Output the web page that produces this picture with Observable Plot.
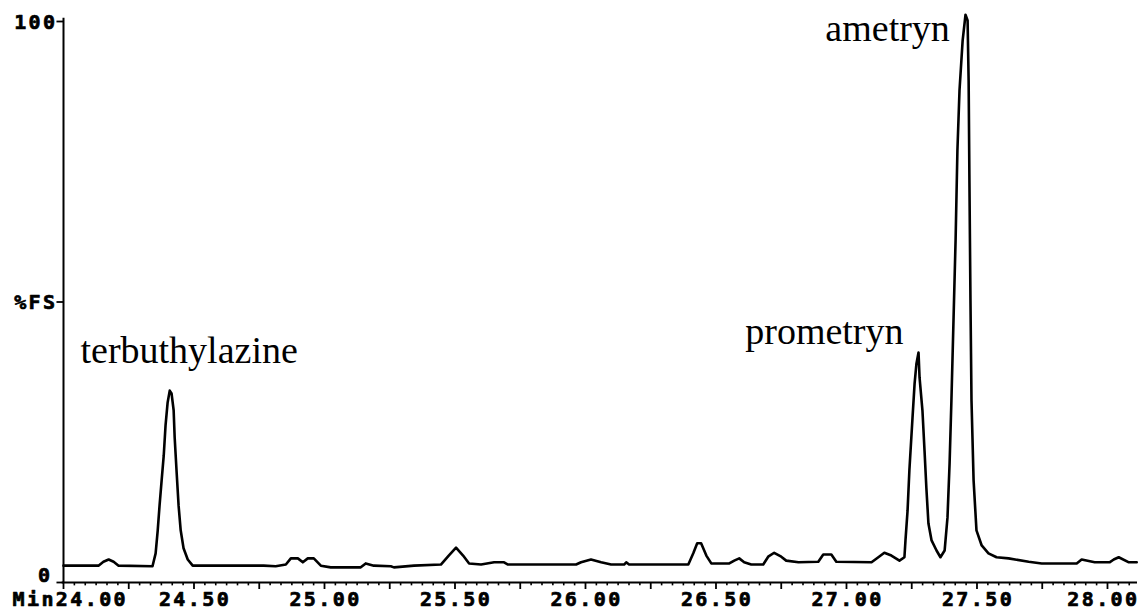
<!DOCTYPE html>
<html>
<head>
<meta charset="utf-8">
<script src="https://cdn.jsdelivr.net/npm/d3@7"></script>
<script src="https://cdn.jsdelivr.net/npm/@observablehq/plot@0.6"></script>
<style>
  html, body { margin: 0; padding: 0; background: #fff; }
  #chart svg { display: block; }
</style>
</head>
<body>
<div id="chart"></div>
<script>
// Retention time (min) of each recorded point of the detector trace
const times = [
  24.000, 24.134, 24.153, 24.173, 24.192, 24.211, 24.341, 24.353, 24.361, 24.368,
  24.376, 24.384, 24.391, 24.399, 24.407, 24.414, 24.422, 24.426, 24.433, 24.441,
  24.449, 24.460, 24.476, 24.495, 24.767, 24.813, 24.852, 24.871, 24.898, 24.917,
  24.936, 24.959, 24.986, 25.024, 25.139, 25.158, 25.189, 25.254, 25.266, 25.343,
  25.446, 25.476, 25.504, 25.531, 25.554, 25.600, 25.650, 25.688, 25.703, 25.964,
  25.983, 26.021, 26.060, 26.098, 26.148, 26.156, 26.167, 26.394, 26.413, 26.428,
  26.443, 26.463, 26.482, 26.551, 26.570, 26.589, 26.608, 26.635, 26.681, 26.700,
  26.723, 26.750, 26.769, 26.816, 26.892, 26.911, 26.942, 26.961, 27.096, 27.122,
  27.145, 27.172, 27.203, 27.222, 27.226, 27.234, 27.241, 27.253, 27.261, 27.268,
  27.276, 27.280, 27.291, 27.299, 27.306, 27.314, 27.326, 27.345, 27.360, 27.376,
  27.387, 27.395, 27.402, 27.410, 27.418, 27.425, 27.433, 27.445, 27.456, 27.464,
  27.468, 27.471, 27.475, 27.479, 27.487, 27.498, 27.518, 27.544, 27.575, 27.621,
  27.698, 27.748, 27.882, 27.901, 27.951, 28.008, 28.024, 28.043, 28.082, 28.112
];

// Detector response (% of full scale) at each of those times
const response = [
  3.0, 3.0, 3.7, 4.1, 3.7, 3.0, 2.9, 5.2, 9.3, 13.7,
  18.2, 22.6, 28.0, 32.1, 34.2, 33.7, 30.7, 25.8, 20.0, 13.7,
  9.3, 6.1, 4.1, 3.0, 3.0, 2.9, 3.2, 4.3, 4.3, 3.6,
  4.3, 4.3, 3.0, 2.7, 2.7, 3.4, 3.0, 2.9, 2.7, 3.0,
  3.2, 4.8, 6.2, 4.8, 3.4, 3.2, 3.6, 3.6, 3.2, 3.2,
  3.6, 4.1, 3.6, 3.2, 3.2, 3.6, 3.2, 3.2, 5.2, 7.0,
  7.0, 4.8, 3.4, 3.4, 3.9, 4.3, 3.6, 3.2, 3.2, 4.6,
  5.3, 4.6, 3.9, 3.6, 3.7, 5.0, 5.0, 3.7, 3.6, 4.5,
  5.3, 4.8, 3.9, 4.5, 7.5, 12.8, 20.0, 29.4, 35.5, 39.0,
  41.0, 36.5, 30.7, 23.5, 16.9, 10.5, 7.5, 5.7, 4.5, 5.7,
  11.6, 21.2, 32.4, 46.7, 61.0, 77.0, 87.7, 96.6, 101.2, 100.2,
  89.5, 71.7, 50.3, 32.4, 18.2, 9.3, 6.6, 5.2, 4.5, 4.3,
  3.7, 3.4, 3.4, 4.1, 3.6, 3.6, 4.1, 4.5, 3.6, 3.6
];

// Peak identifications and where their names are written (time, %FS)
const compounds = ["terbuthylazine", "prometryn", "ametryn"];
const labelTimes = [24.065, 26.612, 26.919];
const labelLevels = [39.2, 42.6, 96.6];

// Axis ticks
const xLabelTicks = [24.0, 24.5, 25.0, 25.5, 26.0, 26.5, 27.0, 27.5, 28.0];
const yTicks = [0, 50, 100];
const yTickLabels = ["0", "%FS", "100"];

const trace = times.map((t, i) => ({time: t, fs: response[i]}));
const peaks = compounds.map((name, i) => ({name, time: labelTimes[i], fs: labelLevels[i]}));

const xMax = 28.115;
const fine = d3.range(0, 99).map(i => 24 + i / 24).filter(t => t <= xMax + 1e-9);
const minorTicks = fine.filter((t, i) => i % 6 !== 0);
const majorTicks = fine.filter((t, i) => i % 6 === 0);
const fmt = d3.format(".2f");
const yLabel = d => yTickLabels[yTicks.indexOf(d)];

// heavy dot-matrix style lettering of the recorder's axes
const axisFont = {
  fontFamily: "DejaVu Sans Mono", fontWeight: "bold", fontSize: 20,
  fill: "#000", stroke: "#000", strokeWidth: 0.7
};

const chart = Plot.plot({
  width: 1143,
  height: 609,
  marginLeft: 63,
  marginRight: 6,
  marginTop: 21,
  marginBottom: 27,
  style: {background: "#fff", color: "#000", overflow: "visible"},
  x: {domain: [24, xMax], axis: null},
  y: {domain: [0, 100], axis: null},
  marks: [
    // frame axes
    Plot.ruleX([24], {stroke: "#000", strokeWidth: 2, y1: -0.2, y2: 100.6}),
    Plot.ruleY([0], {stroke: "#000", strokeWidth: 2, x1: 23.995, x2: xMax}),
    // x ticks hanging below the baseline
    Plot.ruleX(minorTicks, {x: d => d, y1: 0, y2: -0.6, stroke: "#000", strokeWidth: 1.6}),
    Plot.ruleX(majorTicks, {x: d => d, y1: 0, y2: -1.25, stroke: "#000", strokeWidth: 1.8}),
    // x tick labels
    Plot.text(xLabelTicks.slice(1, -1), {
      x: d => d, frameAnchor: "bottom", text: d => fmt(d),
      lineAnchor: "top", dx: 1, dy: 9, ...axisFont
    }),
    Plot.text([xLabelTicks[0]], {
      x: d => d, frameAnchor: "bottom", text: d => "Min" + fmt(d),
      textAnchor: "start", lineAnchor: "top", dx: -51, dy: 9, ...axisFont
    }),
    Plot.text([xLabelTicks[xLabelTicks.length - 1]], {
      x: d => d, frameAnchor: "bottom", text: d => fmt(d),
      textAnchor: "end", lineAnchor: "top", dx: 32, dy: 9, ...axisFont
    }),
    // y ticks and labels
    Plot.ruleY(yTicks, {y: d => d, x1: 23.975, x2: 24, stroke: "#000", strokeWidth: 1.8}),
    Plot.text(yTicks.slice(1), {
      y: d => d, frameAnchor: "left", text: yLabel,
      textAnchor: "end", dx: -6, dy: 1, ...axisFont
    }),
    Plot.text(yTicks.slice(0, 1), {
      y: d => d, frameAnchor: "left", text: yLabel,
      textAnchor: "end", dx: -11, dy: -7, ...axisFont
    }),
    // chromatogram trace
    Plot.line(trace, {x: "time", y: "fs", stroke: "#000", strokeWidth: 2.6, strokeLinejoin: "round"}),
    // peak names
    Plot.text(peaks, {
      x: "time", y: "fs", text: "name", textAnchor: "start", lineAnchor: "bottom",
      fontFamily: "Liberation Serif", fontSize: 38, fill: "#000"
    })
  ]
});

// widen the monospaced scale lettering like the recorder's print head
d3.select(chart).selectAll('g[font-family="DejaVu Sans Mono"] text')
  .style("letter-spacing", "2.4px");

document.getElementById("chart").append(chart);
</script>
</body>
</html>
